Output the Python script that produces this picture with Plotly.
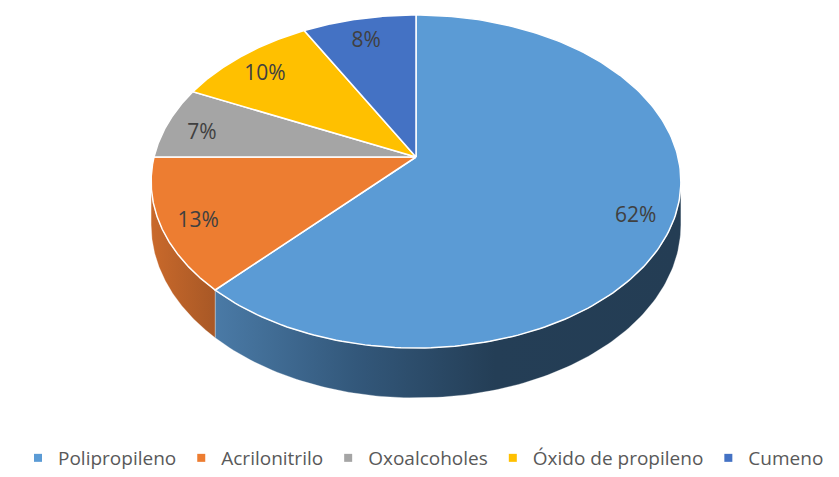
import numpy as np
import plotly.graph_objects as go

categories = ["Polipropileno", "Acrilonitrilo", "Oxoalcoholes", "Óxido de propileno", "Cumeno"]
values = [62, 13, 7, 10, 8]
labels = ["62%", "13%", "7%", "10%", "8%"]

top_colors = ["#5B9BD5", "#ED7D31", "#A5A5A5", "#FFC000", "#4472C4"]
side_scales = [
    [[0, "#4a7aa6"], [0.3, "#33587b"], [0.6, "#243e56"], [1, "#243d54"]],
    [[0, "#c9692b"], [1, "#a85826"]],
    [[0, "#7d7d7d"], [1, "#666666"]],
    [[0, "#c09000"], [1, "#a07800"]],
    [[0, "#33569a"], [1, "#2a4780"]],
]

# projection of the tilted disc (pixel space of the page)
CX, CY = 416.0, 157.0
RX, RY = 262.0, 162.9
P = 0.147
H = 42.6
PAGE_OFFSET = 8  # default body margin of the html page


def proj(phi, r=1.0, drop=0.0):
    X = r * np.sin(phi)
    Y = r * np.cos(phi)
    s = 1.0 / (1.0 + P * Y)
    return CX + RX * X * s, CY - RY * Y * s + drop * s


fig = go.Figure()

total = float(sum(values))
bounds = np.concatenate([[0], np.cumsum(values)]) / total * 2 * np.pi
vis_lo = np.arccos(-P)
vis_hi = 2 * np.pi - vis_lo

# sides (only visible front part)
for i in range(len(values)):
    a1, a2 = max(bounds[i], vis_lo), min(bounds[i + 1], vis_hi)
    if a2 <= a1:
        continue
    t = np.linspace(a1, a2, 120)
    xt, yt = proj(t)
    xb, yb = proj(t[::-1], drop=H)
    xs = np.concatenate([xt, xb, xt[:1]])
    ys = np.concatenate([yt, yb, yt[:1]])
    fig.add_trace(go.Scatter(
        x=xs, y=ys, mode="lines", fill="toself",
        line=dict(width=0.6, color="rgba(255,255,255,0.5)"),
        fillgradient=dict(type="horizontal", colorscale=side_scales[i]),
        hoverinfo="skip", showlegend=False))

# top faces
for i in range(len(values)):
    t = np.linspace(bounds[i], bounds[i + 1], 200)
    xa, ya = proj(t)
    xs = np.concatenate([[CX], xa, [CX]])
    ys = np.concatenate([[CY], ya, [CY]])
    fig.add_trace(go.Scatter(
        x=xs, y=ys, mode="lines", fill="toself", fillcolor=top_colors[i],
        line=dict(width=1.5, color="white"),
        name=categories[i], hoverinfo="name", showlegend=False))

# data labels
mids = (bounds[:-1] + bounds[1:]) / 2
lx, ly = proj(mids, r=0.86)
fig.add_trace(go.Scatter(
    x=lx, y=ly + 6, mode="text", text=labels,
    textfont=dict(family="Open Sans", size=21, color="#404040"),
    hoverinfo="skip", showlegend=False))

# legend entries
for i in range(len(values)):
    fig.add_trace(go.Scatter(
        x=[None], y=[None], mode="markers", name=categories[i],
        marker=dict(symbol="square", size=8, color=top_colors[i])))

W, Hh = 839 - PAGE_OFFSET, 477 - PAGE_OFFSET
fig.update_layout(
    width=W, height=Hh,
    margin=dict(l=0, r=0, t=0, b=0, autoexpand=False),
    paper_bgcolor="white", plot_bgcolor="white",
    xaxis=dict(range=[PAGE_OFFSET, 839], visible=False, fixedrange=True),
    yaxis=dict(range=[477, PAGE_OFFSET], visible=False, fixedrange=True),
    legend=dict(orientation="h", x=0.5, xanchor="center",
                y=0, yanchor="bottom",
                font=dict(family="Open Sans", size=19, color="#595959"),
                itemwidth=30, tracegroupgap=0),
    showlegend=True,
)

fig.write_html("out.html")
